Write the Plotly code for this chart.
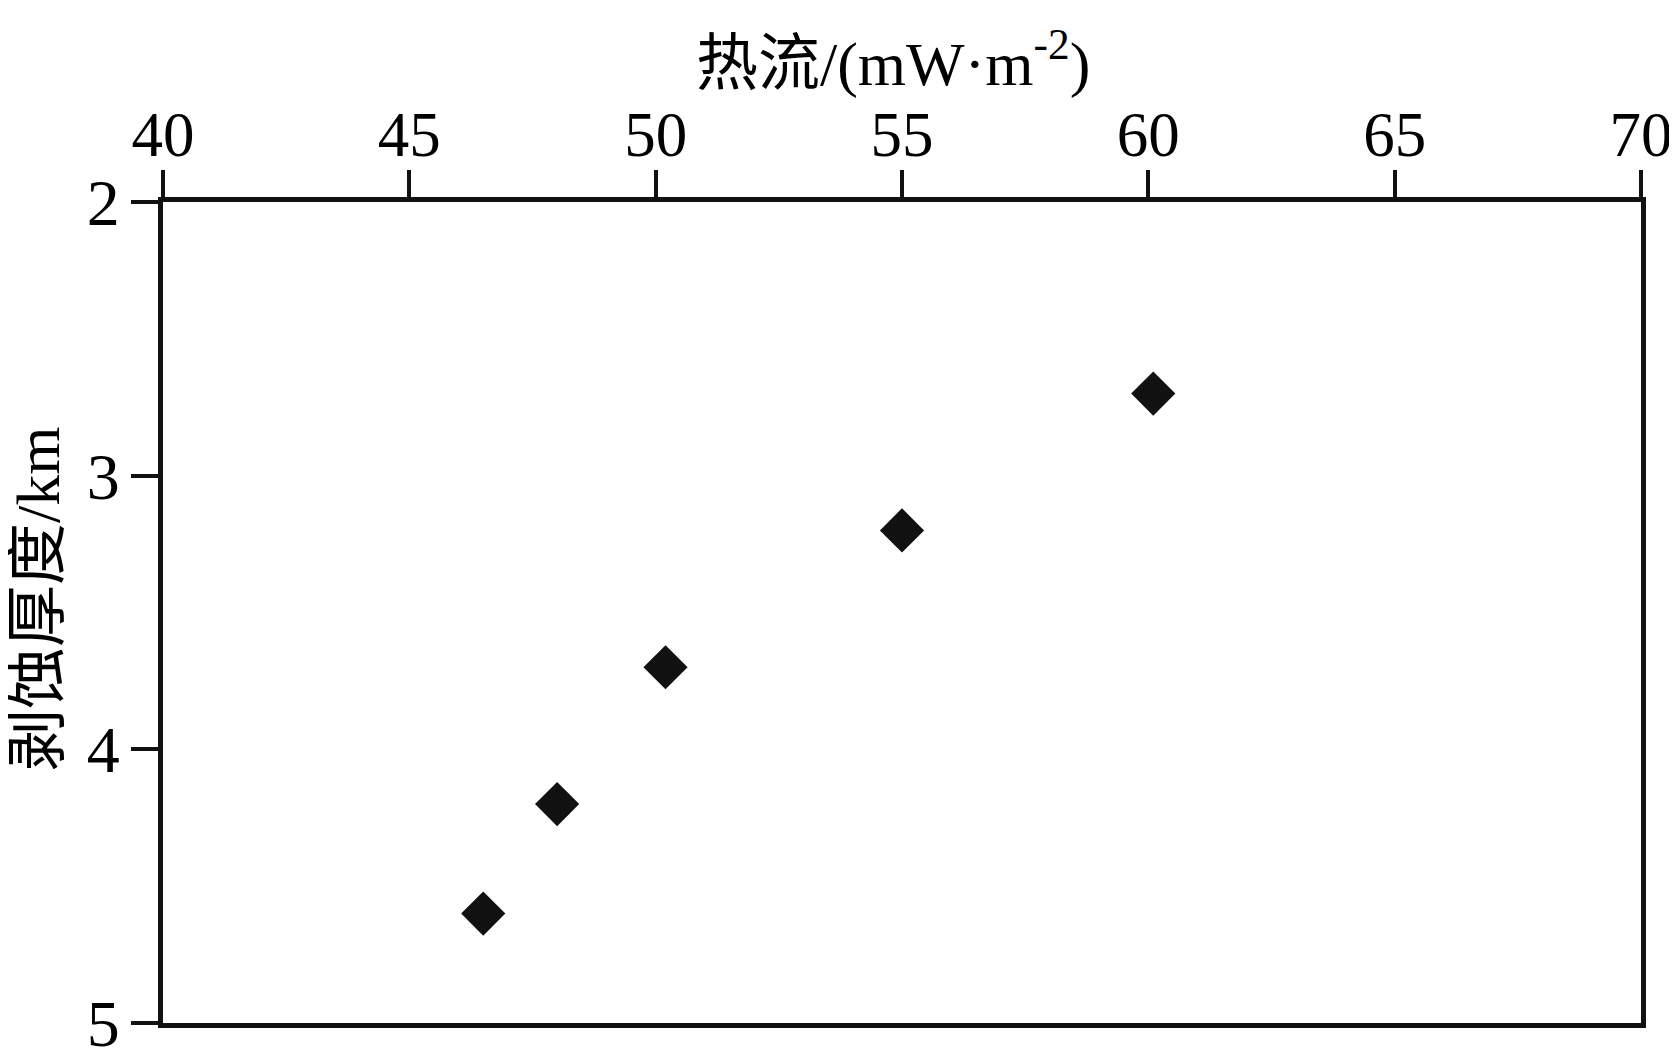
import plotly.graph_objects as go

# heat flow (mW/m^2) vs erosion thickness (km)
heat_flow = [46.5, 48.0, 50.2, 55.0, 60.1]
erosion = [4.6, 4.2, 3.7, 3.2, 2.7]

x_ticks = [40, 45, 50, 55, 60, 65, 70]
y_ticks = [2, 3, 4, 5]

font_family = "Liberation Serif, Noto Sans CJK SC"

fig = go.Figure()
fig.add_trace(go.Scatter(
    x=heat_flow, y=erosion, mode="markers",
    marker=dict(symbol="diamond", size=34, color="#111111", line=dict(width=0)),
    showlegend=False,
))

# page body adds an 8px offset, so the figure is made 8px smaller
fig.update_layout(
    width=1669, height=1055,
    margin=dict(l=155, r=36, t=194, b=40),
    paper_bgcolor="white", plot_bgcolor="white",
    font=dict(family=font_family, size=60, color="black"),
)

fig.update_xaxes(
    side="top", range=[40, 70], tickvals=x_ticks, automargin=False,
    showgrid=False, zeroline=False,
    showline=True, linecolor="#111111", linewidth=5, mirror=True,
    ticks="outside", ticklen=27, tickwidth=4, tickcolor="#111111",
    tickfont=dict(size=63, family=font_family),
    ticklabeloverflow="allow", ticklabelstandoff=-11,
)
fig.update_yaxes(
    range=[5, 2], tickvals=y_ticks, automargin=False,
    showgrid=False, zeroline=False,
    showline=True, linecolor="#111111", linewidth=5, mirror=True,
    ticks="outside", ticklen=27, tickwidth=4, tickcolor="#111111",
    tickfont=dict(size=66, family=font_family),
    ticklabeloverflow="allow", ticklabelstandoff=-2,
)

# axis titles as annotations for exact placement
fig.add_annotation(
    text="热流/(mW·m<sup>-2</sup>)", xref="paper", yref="paper",
    x=0.494, y=1.174, xanchor="center", yanchor="middle", showarrow=False,
    font=dict(size=62, family=font_family, color="black"),
)
fig.add_annotation(
    text="剥蚀厚度/km", xref="paper", yref="paper",
    x=-0.085, y=0.517, xanchor="center", yanchor="middle", showarrow=False,
    textangle=-90, font=dict(size=62, family=font_family, color="black"),
)

fig.write_html("out.html")
